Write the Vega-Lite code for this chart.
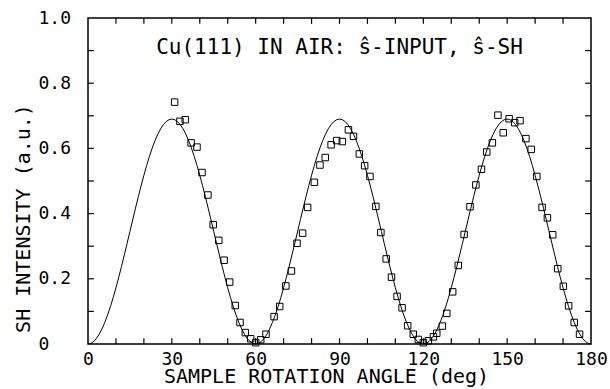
{
  "$schema": "https://vega.github.io/schema/vega-lite/v6.json",
  "width": 503,
  "height": 326,
  "autosize": {"type": "none"},
  "padding": {"left": 88, "top": 18, "right": 19, "bottom": 45},
  "background": "white",
  "config": {
    "view": {"stroke": "black", "strokeWidth": 1.5},
    "font": "DejaVu Sans Mono",
    "axis": {
      "grid": false,
      "domain": false,
      "ticks": false,
      "tickSize": 0,
      "labelColor": "black",
      "titleColor": "black",
      "labelFont": "DejaVu Sans Mono",
      "titleFont": "DejaVu Sans Mono",
      "labelFontSize": 18,
      "titleFontSize": 20,
      "titleFontWeight": "normal",
      "labelFlush": false,
      "labelOverlap": false
    }
  },
  "resolve": {"axis": {"x": "independent", "y": "independent"}},
  "datasets": {
    "xticks": [{"t":10},{"t":20},{"t":30},{"t":40},{"t":50},{"t":60},{"t":70},{"t":80},{"t":90},{"t":100},{"t":110},{"t":120},{"t":130},{"t":140},{"t":150},{"t":160},{"t":170}],
    "yticks": [{"t":0.1},{"t":0.2},{"t":0.3},{"t":0.4},{"t":0.5},{"t":0.6},{"t":0.7},{"t":0.8},{"t":0.9}],
    "curve": [
      {"angle":0,"sh":0},{"angle":1,"sh":0.0019},{"angle":2,"sh":0.0075},{"angle":3,"sh":0.0169},{"angle":4,"sh":0.0298},{"angle":5,"sh":0.0462},{"angle":6,"sh":0.0659},{"angle":7,"sh":0.0886},{"angle":8,"sh":0.1141},{"angle":9,"sh":0.1422},{"angle":10,"sh":0.1725},
      {"angle":11,"sh":0.2047},{"angle":12,"sh":0.2384},{"angle":13,"sh":0.2733},{"angle":14,"sh":0.3089},{"angle":15,"sh":0.345},{"angle":16,"sh":0.3811},{"angle":17,"sh":0.4167},{"angle":18,"sh":0.4516},{"angle":19,"sh":0.4853},{"angle":20,"sh":0.5175},
      {"angle":21,"sh":0.5478},{"angle":22,"sh":0.5759},{"angle":23,"sh":0.6014},{"angle":24,"sh":0.6241},{"angle":25,"sh":0.6438},{"angle":26,"sh":0.6602},{"angle":27,"sh":0.6731},{"angle":28,"sh":0.6825},{"angle":29,"sh":0.6881},{"angle":30,"sh":0.69},
      {"angle":31,"sh":0.6881},{"angle":32,"sh":0.6825},{"angle":33,"sh":0.6731},{"angle":34,"sh":0.6602},{"angle":35,"sh":0.6438},{"angle":36,"sh":0.6241},{"angle":37,"sh":0.6014},{"angle":38,"sh":0.5759},{"angle":39,"sh":0.5478},{"angle":40,"sh":0.5175},
      {"angle":41,"sh":0.4853},{"angle":42,"sh":0.4516},{"angle":43,"sh":0.4167},{"angle":44,"sh":0.3811},{"angle":45,"sh":0.345},{"angle":46,"sh":0.3089},{"angle":47,"sh":0.2733},{"angle":48,"sh":0.2384},{"angle":49,"sh":0.2047},{"angle":50,"sh":0.1725},
      {"angle":51,"sh":0.1422},{"angle":52,"sh":0.1141},{"angle":53,"sh":0.0886},{"angle":54,"sh":0.0659},{"angle":55,"sh":0.0462},{"angle":56,"sh":0.0298},{"angle":57,"sh":0.0169},{"angle":58,"sh":0.0075},{"angle":59,"sh":0.0019},{"angle":60,"sh":0},
      {"angle":61,"sh":0.0019},{"angle":62,"sh":0.0075},{"angle":63,"sh":0.0169},{"angle":64,"sh":0.0298},{"angle":65,"sh":0.0462},{"angle":66,"sh":0.0659},{"angle":67,"sh":0.0886},{"angle":68,"sh":0.1141},{"angle":69,"sh":0.1422},{"angle":70,"sh":0.1725},
      {"angle":71,"sh":0.2047},{"angle":72,"sh":0.2384},{"angle":73,"sh":0.2733},{"angle":74,"sh":0.3089},{"angle":75,"sh":0.345},{"angle":76,"sh":0.3811},{"angle":77,"sh":0.4167},{"angle":78,"sh":0.4516},{"angle":79,"sh":0.4853},{"angle":80,"sh":0.5175},
      {"angle":81,"sh":0.5478},{"angle":82,"sh":0.5759},{"angle":83,"sh":0.6014},{"angle":84,"sh":0.6241},{"angle":85,"sh":0.6438},{"angle":86,"sh":0.6602},{"angle":87,"sh":0.6731},{"angle":88,"sh":0.6825},{"angle":89,"sh":0.6881},{"angle":90,"sh":0.69},
      {"angle":91,"sh":0.6881},{"angle":92,"sh":0.6825},{"angle":93,"sh":0.6731},{"angle":94,"sh":0.6602},{"angle":95,"sh":0.6438},{"angle":96,"sh":0.6241},{"angle":97,"sh":0.6014},{"angle":98,"sh":0.5759},{"angle":99,"sh":0.5478},{"angle":100,"sh":0.5175},
      {"angle":101,"sh":0.4853},{"angle":102,"sh":0.4516},{"angle":103,"sh":0.4167},{"angle":104,"sh":0.3811},{"angle":105,"sh":0.345},{"angle":106,"sh":0.3089},{"angle":107,"sh":0.2733},{"angle":108,"sh":0.2384},{"angle":109,"sh":0.2047},{"angle":110,"sh":0.1725},
      {"angle":111,"sh":0.1422},{"angle":112,"sh":0.1141},{"angle":113,"sh":0.0886},{"angle":114,"sh":0.0659},{"angle":115,"sh":0.0462},{"angle":116,"sh":0.0298},{"angle":117,"sh":0.0169},{"angle":118,"sh":0.0075},{"angle":119,"sh":0.0019},{"angle":120,"sh":0},
      {"angle":121,"sh":0.0019},{"angle":122,"sh":0.0075},{"angle":123,"sh":0.0169},{"angle":124,"sh":0.0298},{"angle":125,"sh":0.0462},{"angle":126,"sh":0.0659},{"angle":127,"sh":0.0886},{"angle":128,"sh":0.1141},{"angle":129,"sh":0.1422},{"angle":130,"sh":0.1725},
      {"angle":131,"sh":0.2047},{"angle":132,"sh":0.2384},{"angle":133,"sh":0.2733},{"angle":134,"sh":0.3089},{"angle":135,"sh":0.345},{"angle":136,"sh":0.3811},{"angle":137,"sh":0.4167},{"angle":138,"sh":0.4516},{"angle":139,"sh":0.4853},{"angle":140,"sh":0.5175},
      {"angle":141,"sh":0.5478},{"angle":142,"sh":0.5759},{"angle":143,"sh":0.6014},{"angle":144,"sh":0.6241},{"angle":145,"sh":0.6438},{"angle":146,"sh":0.6602},{"angle":147,"sh":0.6731},{"angle":148,"sh":0.6825},{"angle":149,"sh":0.6881},{"angle":150,"sh":0.69},
      {"angle":151,"sh":0.6881},{"angle":152,"sh":0.6825},{"angle":153,"sh":0.6731},{"angle":154,"sh":0.6602},{"angle":155,"sh":0.6438},{"angle":156,"sh":0.6241},{"angle":157,"sh":0.6014},{"angle":158,"sh":0.5759},{"angle":159,"sh":0.5478},{"angle":160,"sh":0.5175},
      {"angle":161,"sh":0.4853},{"angle":162,"sh":0.4516},{"angle":163,"sh":0.4167},{"angle":164,"sh":0.3811},{"angle":165,"sh":0.345},{"angle":166,"sh":0.3089},{"angle":167,"sh":0.2733},{"angle":168,"sh":0.2384},{"angle":169,"sh":0.2047},{"angle":170,"sh":0.1725},
      {"angle":171,"sh":0.1422},{"angle":172,"sh":0.1141},{"angle":173,"sh":0.0886},{"angle":174,"sh":0.0659},{"angle":175,"sh":0.0462},{"angle":176,"sh":0.0298},{"angle":177,"sh":0.0169},{"angle":178,"sh":0.0075},{"angle":179,"sh":0.0019},{"angle":180,"sh":0}
    ],
    "pts": [
      {"angle":31.0,"sh":0.742},{"angle":32.9,"sh":0.683},{"angle":34.8,"sh":0.688},{"angle":36.9,"sh":0.617},{"angle":39.0,"sh":0.604},{"angle":40.8,"sh":0.526},{"angle":42.9,"sh":0.457},{"angle":44.8,"sh":0.366},{"angle":46.8,"sh":0.318},{"angle":48.7,"sh":0.257},
      {"angle":50.7,"sh":0.19},{"angle":52.7,"sh":0.118},{"angle":54.4,"sh":0.066},{"angle":56.3,"sh":0.035},{"angle":58.2,"sh":0.016},{"angle":60.0,"sh":0.004},{"angle":61.8,"sh":0.013},{"angle":63.7,"sh":0.03},{"angle":66.6,"sh":0.084},{"angle":68.6,"sh":0.115},
      {"angle":70.8,"sh":0.178},{"angle":72.8,"sh":0.224},{"angle":74.8,"sh":0.309},{"angle":76.8,"sh":0.34},{"angle":78.6,"sh":0.419},{"angle":81.0,"sh":0.496},{"angle":83.0,"sh":0.549},{"angle":84.9,"sh":0.572},{"angle":87.0,"sh":0.611},{"angle":89.0,"sh":0.624},
      {"angle":91.0,"sh":0.621},{"angle":93.2,"sh":0.657},{"angle":95.0,"sh":0.637},{"angle":97.1,"sh":0.583},{"angle":99.0,"sh":0.547},{"angle":100.9,"sh":0.514},{"angle":103.0,"sh":0.422},{"angle":104.8,"sh":0.342},{"angle":106.7,"sh":0.261},{"angle":108.6,"sh":0.205},
      {"angle":110.6,"sh":0.146},{"angle":112.4,"sh":0.111},{"angle":114.4,"sh":0.056},{"angle":116.4,"sh":0.03},{"angle":118.2,"sh":0.014},{"angle":120.0,"sh":0.004},{"angle":121.8,"sh":0.01},{"angle":123.6,"sh":0.022},{"angle":124.8,"sh":0.033},{"angle":126.8,"sh":0.055},
      {"angle":128.4,"sh":0.094},{"angle":130.5,"sh":0.16},{"angle":132.5,"sh":0.241},{"angle":134.6,"sh":0.336},{"angle":136.7,"sh":0.421},{"angle":138.8,"sh":0.488},{"angle":140.8,"sh":0.536},{"angle":142.7,"sh":0.589},{"angle":144.7,"sh":0.617},{"angle":146.7,"sh":0.702},
      {"angle":148.6,"sh":0.648},{"angle":150.7,"sh":0.691},{"angle":152.7,"sh":0.679},{"angle":154.6,"sh":0.685},{"angle":156.7,"sh":0.63},{"angle":158.6,"sh":0.597},{"angle":160.6,"sh":0.514},{"angle":162.5,"sh":0.419},{"angle":164.4,"sh":0.387},{"angle":166.3,"sh":0.335},
      {"angle":168.1,"sh":0.231},{"angle":170.1,"sh":0.177},{"angle":172.0,"sh":0.117},{"angle":174.0,"sh":0.066},{"angle":175.9,"sh":0.03}
    ]
  },
  "layer": [
    {
      "data": {"name": "curve"},
      "mark": {"type": "line", "color": "black", "strokeWidth": 1},
      "encoding": {
        "x": {
          "field": "angle", "type": "quantitative",
          "scale": {"domain": [0, 180], "nice": false, "zero": false},
          "axis": {
            "orient": "bottom",
            "values": [0,30,60,90,120,150,180],
            "labelPadding": 6,
            "title": "SAMPLE ROTATION ANGLE (deg)",
            "titleX": 238, "titleY": 32, "titleBaseline": "middle"
          }
        },
        "y": {
          "field": "sh", "type": "quantitative",
          "scale": {"domain": [0, 1], "nice": false},
          "axis": {
            "orient": "left",
            "values": [0,0.2,0.4,0.6,0.8,1.0],
            "labelExpr": "datum.value == 0 ? '0' : format(datum.value, '.1f')",
            "labelAlign": "left",
            "labelPadding": 50,
            "title": "SH INTENSITY (a.u.)",
            "titleX": -65, "titleY": 200, "titleBaseline": "middle"
          }
        }
      }
    },
    {
      "data": {"name": "xticks"},
      "mark": {"type": "rule", "color": "black", "strokeWidth": 1.2},
      "encoding": {
        "x": {"field": "t", "type": "quantitative", "axis": null},
        "y": {"datum": 0, "type": "quantitative", "axis": null},
        "y2": {"datum": 0.018}
      }
    },
    {
      "data": {"name": "xticks"},
      "mark": {"type": "rule", "color": "black", "strokeWidth": 1.2},
      "encoding": {
        "x": {"field": "t", "type": "quantitative", "axis": null},
        "y": {"datum": 1, "type": "quantitative", "axis": null},
        "y2": {"datum": 0.982}
      }
    },
    {
      "data": {"name": "yticks"},
      "mark": {"type": "rule", "color": "black", "strokeWidth": 1.2},
      "encoding": {
        "y": {"field": "t", "type": "quantitative", "axis": null},
        "x": {"datum": 0, "type": "quantitative", "axis": null},
        "x2": {"datum": 2.1}
      }
    },
    {
      "data": {"name": "yticks"},
      "mark": {"type": "rule", "color": "black", "strokeWidth": 1.2},
      "encoding": {
        "y": {"field": "t", "type": "quantitative", "axis": null},
        "x": {"datum": 180, "type": "quantitative", "axis": null},
        "x2": {"datum": 177.9}
      }
    },
    {
      "data": {"name": "pts"},
      "mark": {"type": "point", "shape": "square", "filled": false, "color": "black", "size": 42, "strokeWidth": 1, "opacity": 1},
      "encoding": {
        "x": {"field": "angle", "type": "quantitative", "axis": null},
        "y": {"field": "sh", "type": "quantitative", "axis": null}
      }
    },
    {
      "data": {"values": [{"label": "Cu(111) IN AIR: ŝ-INPUT, ŝ-SH"}]},
      "mark": {"type": "text", "font": "DejaVu Sans Mono", "fontSize": 21, "color": "black", "align": "center", "baseline": "middle"},
      "encoding": {
        "x": {"datum": 90, "type": "quantitative", "axis": null},
        "y": {"datum": 0.908, "type": "quantitative", "axis": null},
        "text": {"field": "label"}
      }
    }
  ]
}
